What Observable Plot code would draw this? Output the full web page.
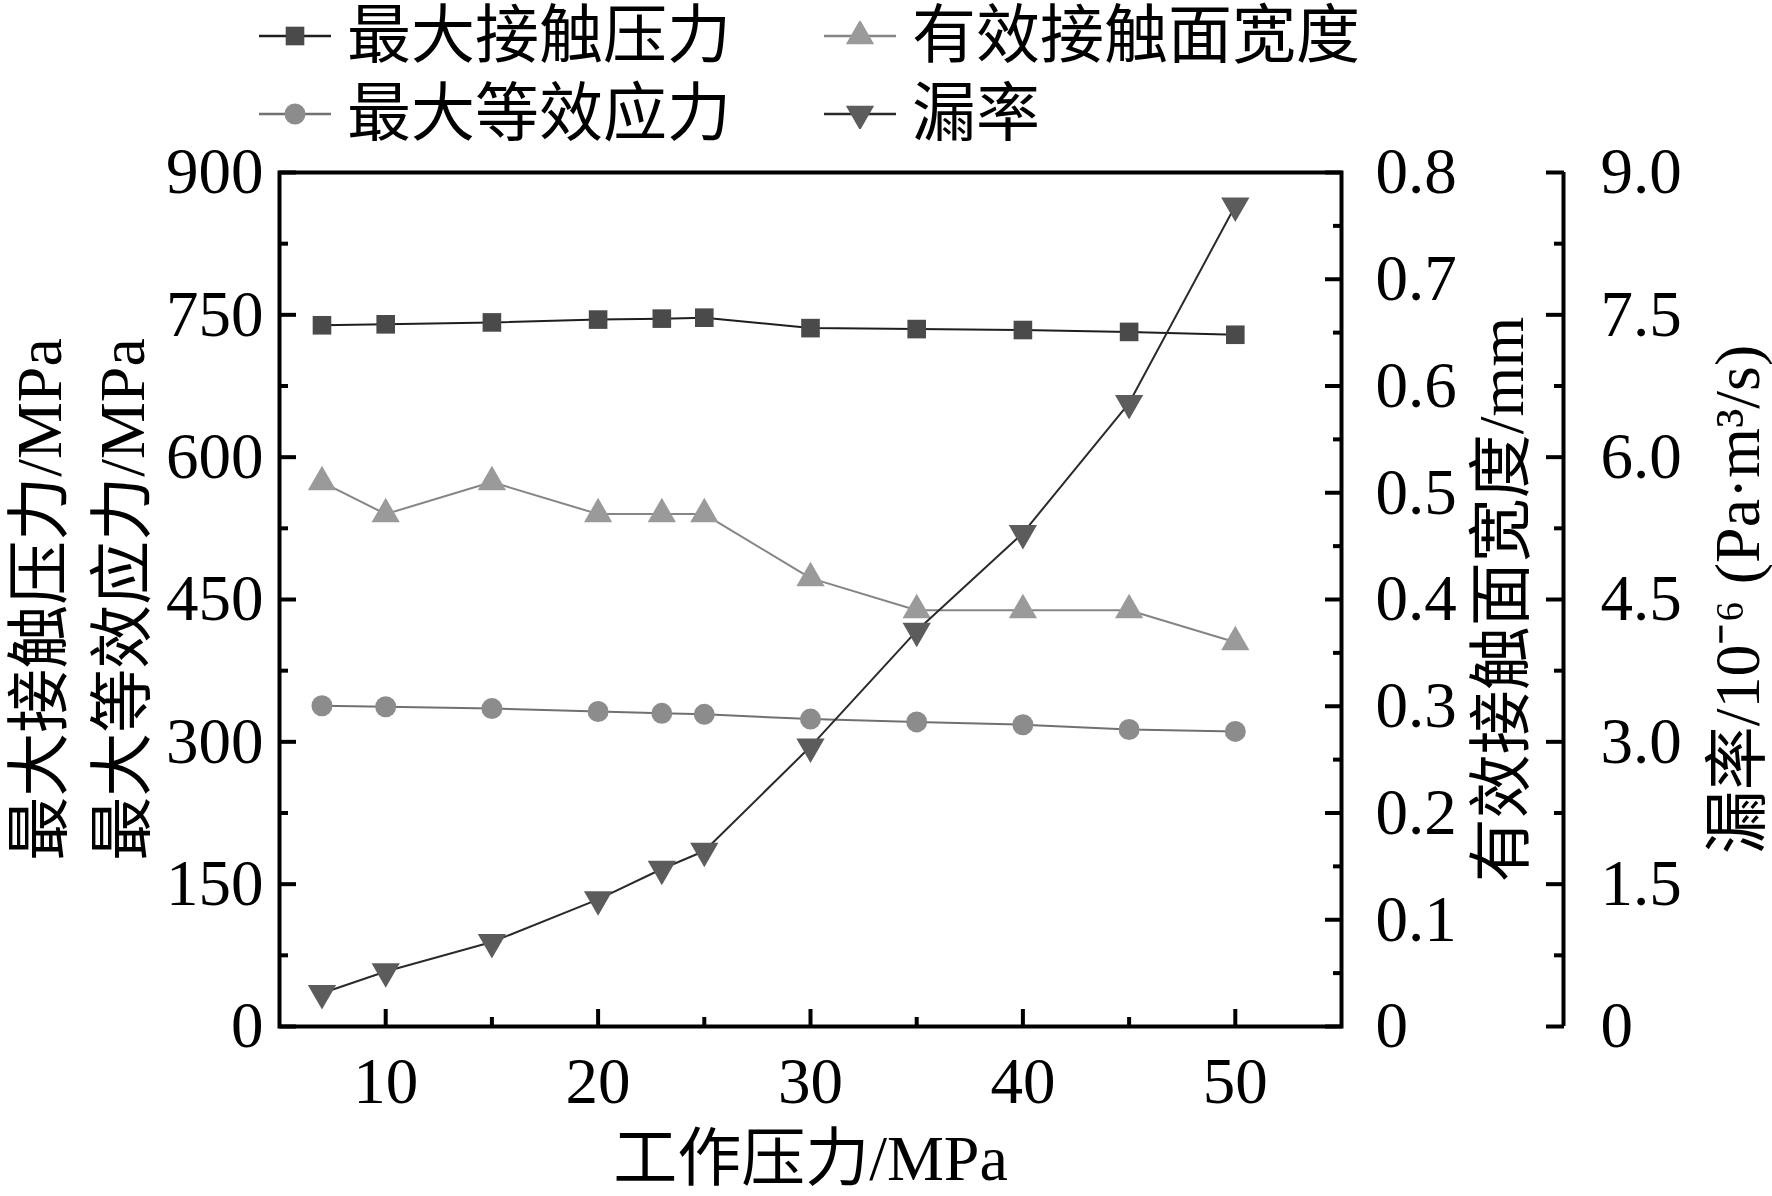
<!DOCTYPE html>
<html><head><meta charset="utf-8">
<script src="https://cdn.jsdelivr.net/npm/d3@7"></script>
<script src="https://cdn.jsdelivr.net/npm/@observablehq/plot@0.6"></script>
<style>
body{margin:0;background:#fff;}
#wrap{position:relative;width:1772px;height:1196px;font-family:"Liberation Serif","Noto Sans CJK SC",serif;}
.leg{position:absolute;display:flex;align-items:center;font-size:64px;line-height:1;white-space:nowrap;color:#000;transform:translateY(-50%);}
.leg svg{margin-right:16px;}
</style></head><body><div id="wrap"></div>
<script>
// ---- data ----
const pressure      = [7, 10, 15, 20, 23, 25, 30, 35, 40, 45, 50];
const maxContact    = [739, 740, 742, 745, 746, 747, 736, 735, 734, 732, 729];
const contactWidth  = [0.51, 0.48, 0.51, 0.48, 0.48, 0.48, 0.42, 0.39, 0.39, 0.39, 0.36];
const maxStress     = [338, 337, 335, 332, 330, 329, 324, 321, 318, 313, 311];
const leakage       = [0.35, 0.58, 0.89, 1.34, 1.66, 1.85, 2.95, 4.17, 5.20, 6.57, 8.65];

const seriesNames = ["最大接触压力", "有效接触面宽度", "最大等效应力", "漏率"];
const xDomain     = [5, 55];
const xTicks      = [10, 20, 30, 40, 50];
const xMinor      = [15, 25, 35, 45];
const leftTicks   = [0, 150, 300, 450, 600, 750, 900];
const leftMinor   = [75, 225, 375, 525, 675, 825];
const widthTicks  = [0, 0.1, 0.2, 0.3, 0.4, 0.5, 0.6, 0.7, 0.8];
const widthMinor  = [0.05, 0.15, 0.25, 0.35, 0.45, 0.55, 0.65, 0.75];
const leakTicks   = [0, 1.5, 3.0, 4.5, 6.0, 7.5, 9.0];
const leakMinor   = [0.75, 2.25, 3.75, 5.25, 6.75, 8.25];

const xTitle  = "工作压力/MPa";
const yTitle1 = "最大接触压力/MPa";
const yTitle2 = "最大等效应力/MPa";
const wTitle  = "有效接触面宽度/mm";
const lTitle  = "漏率/10⁻⁶ (Pa·m³/s)";

// ---- scale factors (secondary axes mapped onto the 0-900 primary scale) ----
const wK = 900 / 0.8;
const lK = 900 / 9;

const rows = pressure.map((p, i) => ({p, c: maxContact[i], w: contactWidth[i] * wK, s: maxStress[i], l: leakage[i] * lK}));

const triDown = {draw(ctx, size) { const s = Math.sqrt(size / (Math.sqrt(3) / 4)); const h = s * Math.sqrt(3) / 2;
  ctx.moveTo(-s / 2, -h / 3); ctx.lineTo(s / 2, -h / 3); ctx.lineTo(0, 2 * h / 3); ctx.closePath(); }};

const styles = [
  {key: "c", line: "#1e1e1e", fill: "#4a4a4a", symbol: "square"},
  {key: "w", line: "#858585", fill: "#9a9a9a", symbol: "triangle"},
  {key: "s", line: "#707070", fill: "#8c8c8c", symbol: "circle"},
  {key: "l", line: "#2a2a2a", fill: "#5c5c5c", symbol: triDown}
];

const blank = () => "";
const fmtW = d => d === 0 ? "0" : (d / wK).toFixed(1);
const fmtL = d => d === 0 ? "0" : (d / lK).toFixed(1);
const third = 222;
const fs = 65;
const tfs = 64;
const mr = 10.5;

const marks = [];
styles.forEach(st => {
  marks.push(Plot.line(rows, {x: "p", y: st.key, stroke: st.line, strokeWidth: 2}));
  marks.push(Plot.dot(rows, {x: "p", y: st.key, symbol: st.symbol, r: mr, fill: st.fill, stroke: "none"}));
});

const title = (t, o) => Plot.text([t], {text: d => d, textAnchor: "middle", lineAnchor: "middle", fontSize: tfs, ...o});

const chart = Plot.plot({
  width: 1772, height: 1196,
  marginLeft: 279, marginRight: 431, marginTop: 172, marginBottom: 170,
  style: {fontFamily: '"Liberation Serif","Noto Sans CJK SC",serif', background: "transparent", color: "#000"},
  x: {domain: xDomain, label: null},
  y: {domain: [0, 900], label: null},
  marks: [
    ...marks,
    Plot.frame({stroke: "#000", strokeWidth: 4}),
    // left axis
    Plot.axisY(leftTicks, {anchor: "left", tickSize: 17, dx: 17, strokeWidth: 4, tickFormat: blank, label: null}),
    Plot.axisY(leftMinor, {anchor: "left", tickSize: 9, dx: 9, strokeWidth: 4, tickFormat: blank, label: null}),
    Plot.axisY(leftTicks, {anchor: "left", tickSize: 0, tickPadding: 16, fontSize: fs, label: null}),
    // right (width) axis
    Plot.axisY(widthTicks.map(v => v * wK), {anchor: "right", tickSize: 17, dx: -17, strokeWidth: 4, tickFormat: blank, label: null}),
    Plot.axisY(widthMinor.map(v => v * wK), {anchor: "right", tickSize: 9, dx: -9, strokeWidth: 4, tickFormat: blank, label: null}),
    Plot.axisY(widthTicks.map(v => v * wK), {anchor: "right", tickSize: 0, tickPadding: 34, fontSize: fs, tickFormat: fmtW, label: null}),
    // third (leakage) axis
    Plot.ruleX([xDomain[1]], {dx: third, y1: 0, y2: 900, stroke: "#000", strokeWidth: 4}),
    Plot.axisY(leakTicks.map(v => v * lK), {anchor: "right", tickSize: 18, dx: third - 18, strokeWidth: 4, tickFormat: blank, label: null}),
    Plot.axisY(leakMinor.map(v => v * lK), {anchor: "right", tickSize: 10, dx: third - 10, strokeWidth: 4, tickFormat: blank, label: null}),
    Plot.axisY(leakTicks.map(v => v * lK), {anchor: "right", tickSize: 0, tickPadding: 37, dx: third, fontSize: fs, tickFormat: fmtL, label: null}),
    // x axis
    Plot.axisX(xTicks, {anchor: "bottom", tickSize: 17, dy: -17, strokeWidth: 4, tickFormat: blank, label: null}),
    Plot.axisX(xMinor, {anchor: "bottom", tickSize: 9, dy: -9, strokeWidth: 4, tickFormat: blank, label: null}),
    Plot.axisX(xTicks, {anchor: "bottom", tickSize: 0, tickPadding: 30, fontSize: fs, label: null}),
    // titles
    title(xTitle, {frameAnchor: "bottom", dy: 133}),
    title(yTitle1, {frameAnchor: "left", dx: -239, rotate: -90}),
    title(yTitle2, {frameAnchor: "left", dx: -156, rotate: -90}),
    title(wTitle, {frameAnchor: "right", dx: 161, rotate: -90}),
    title(lTitle, {frameAnchor: "right", dx: 397, rotate: -90})
  ]
});

const wrap = document.getElementById("wrap");
wrap.appendChild(chart);

// ---- legend (HTML overlay above the plot) ----
const legendPos = [[259, 36], [824, 36], [259, 114], [824, 114]];
styles.forEach((st, i) => {
  const div = document.createElement("div");
  div.className = "leg";
  div.style.left = legendPos[i][0] + "px";
  div.style.top = legendPos[i][1] + "px";
  const svg = d3.create("svg").attr("width", 72).attr("height", 30);
  svg.append("line").attr("x1", 0).attr("x2", 72).attr("y1", 15).attr("y2", 15).attr("stroke", st.line).attr("stroke-width", 2.5);
  const sym = typeof st.symbol === "string" ? {square: d3.symbolSquare, triangle: d3.symbolTriangle, circle: d3.symbolCircle}[st.symbol] : st.symbol;
  svg.append("path").attr("transform", "translate(36,15)").attr("d", d3.symbol(sym, Math.PI * mr * mr)()).attr("fill", st.fill);
  div.appendChild(svg.node());
  const span = document.createElement("span");
  span.textContent = seriesNames[i];
  div.appendChild(span);
  wrap.appendChild(div);
});
</script></body></html>
